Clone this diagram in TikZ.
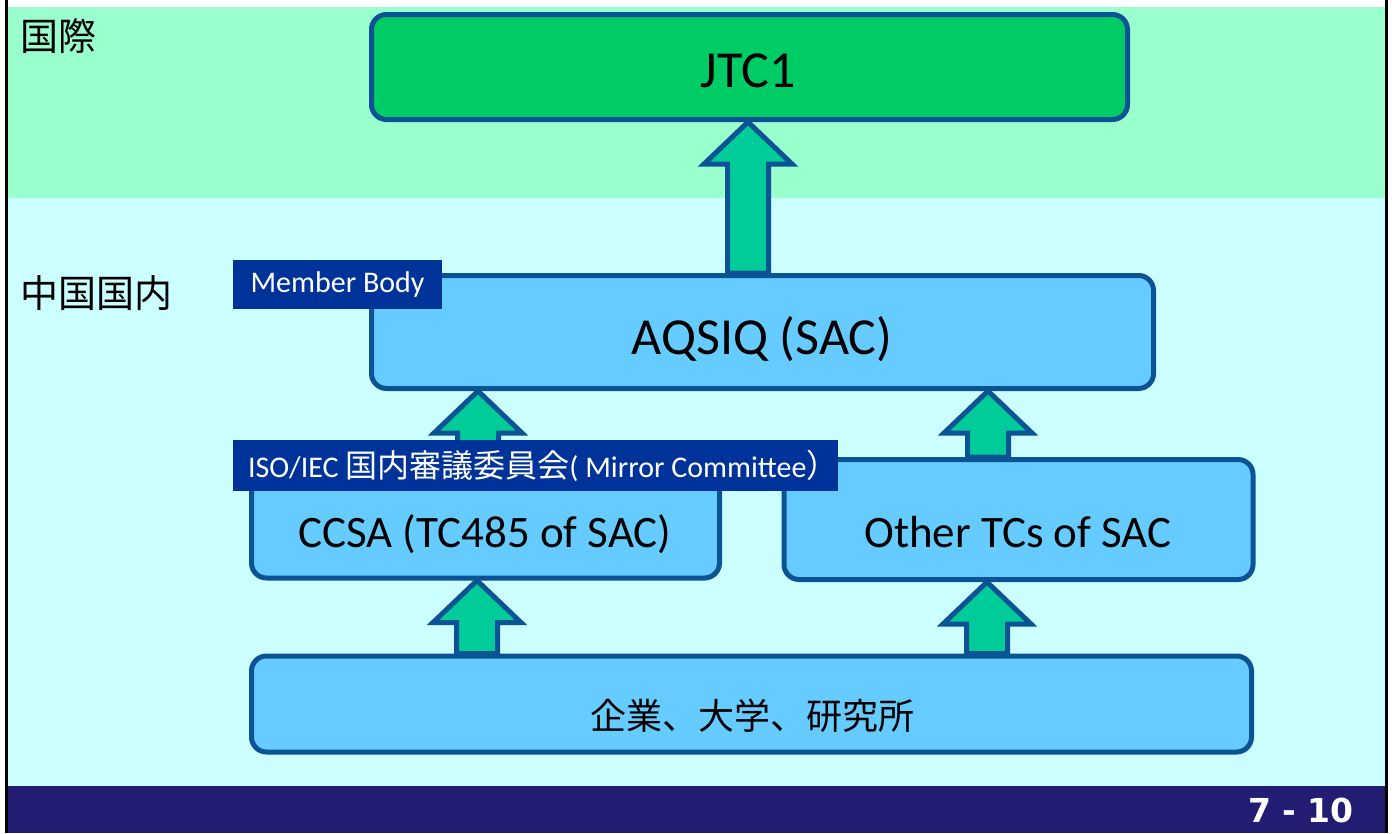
\documentclass[tikz,border=0pt]{standalone}
\usepackage{fontspec}
\setmainfont{Carlito}
\newfontfamily\cjk{Noto Sans CJK JP}
\newfontfamily\numfont{DejaVu Sans}
\usetikzlibrary{calc}
\definecolor{bandgreen}{HTML}{99FFCC}
\definecolor{bandcyan}{HTML}{CCFFFF}
\definecolor{navybar}{HTML}{231C73}
\definecolor{jtcgreen}{HTML}{00CC66}
\definecolor{boxblue}{HTML}{66CCFF}
\definecolor{edgeblue}{HTML}{0B5394}
\definecolor{arrowgreen}{HTML}{00CC99}
\definecolor{tagblue}{HTML}{003399}
\newcommand{\fsz}[1]{\fontsize{#1}{#1}\selectfont}
% up arrow: #1 = x, #2 = bottom anchor, #3 = top anchor
\newcommand{\UpArrow}[3]{%
  \path[arrowsty] let \p1=(#1,0 |- #2), \p2=(#1,0 |- #3) in
    (\x1-20.5pt,\y1) -- (\x1-20.5pt,\y2-42pt) -- (\x1-44pt,\y2-42pt) -- (\x1,\y2)
    -- (\x1+44pt,\y2-42pt) -- (\x1+20.5pt,\y2-42pt) -- (\x1+20.5pt,\y1) -- cycle;}
\begin{document}
\begin{tikzpicture}[x=1pt,y=-1pt,
  box/.style={draw=edgeblue, line width=5pt, rounded corners=15pt, fill=boxblue, inner sep=0pt},
  boxtext/.style={inner sep=0pt, text=black},
  sidetext/.style={inner sep=0pt, anchor=west, text=black, font=\cjk\fsz{38}},
  tag/.style={fill=tagblue, text=white, inner sep=0pt, font=\fsz{30}},
  arrowsty/.style={fill=arrowgreen, draw=edgeblue, line width=5pt, line join=miter}]
\useasboundingbox (0,0) rectangle (1392,833);
% background
\fill[white] (0,0) rectangle (1392,833);
\fill[bandgreen] (8,7) rectangle (1385,198);
\fill[bandcyan] (8,198) rectangle (1385,786);
\fill[navybar] (8,786) rectangle (1385,833);
\draw[black, line width=3pt] (6.5,0) -- (6.5,833);
\draw[black, line width=3pt] (1386.5,0) -- (1386.5,833);
% side labels
\node[sidetext] (intl) at (20,36) {国際};
\node[sidetext] (dom) at (20,293) {中国国内};
% boxes
\node[box, fill=jtcgreen, minimum width=756pt, minimum height=105pt] (jtc) at (749.5,67) {};
\node[box, minimum width=782pt, minimum height=113pt] (aqsiq) at (762.5,332) {};
\node[box, minimum width=468pt, minimum height=118pt] (ccsa) at (485.5,519) {};
\node[box, minimum width=469pt, minimum height=120pt] (tcs) at (1018.5,519.5) {};
\node[box, minimum width=1000pt, minimum height=96pt] (base) at (751.5,704) {};
% box texts
\node[boxtext, anchor=base, font=\fsz{52}] (jtct) at (748,87) {JTC1};
\node[boxtext, anchor=base, font=\fsz{52}] (aqsiqt) at (762,354) {AQSIQ (SAC)};
\node[boxtext, anchor=base, font=\fsz{45}] (ccsat) at (485,547) {CCSA (TC485 of SAC)};
\node[boxtext, anchor=base, font=\fsz{45}] (tcst) at (1018,547) {Other TCs of SAC};
\node[boxtext, font=\cjk\fsz{36}] (baset) at (752,716) {企業、大学、研究所};
% arrows
\UpArrow{748}{aqsiq.north}{jtc.south}
\UpArrow{478}{ccsa.north}{aqsiq.south}
\UpArrow{988}{tcs.north}{aqsiq.south}
\UpArrow{477}{base.north}{ccsa.south}
\UpArrow{987}{base.north}{tcs.south}
% tags
\node[tag, minimum width=209pt, minimum height=49pt] (member) at (337.5,284.5) {Member Body};
\node[tag, minimum width=605pt, minimum height=51pt] (mirror) at (535.5,465.5) {\makebox[575pt][l]{ISO/IEC {\cjk\fsz{32}国内審議委員会}( Mirror Committee{\cjk\fsz{32}）}}};
% page number
\node[inner sep=0pt, anchor=base east, text=white, font=\numfont\bfseries\fsz{33}] (pageno) at (1354,822) {7 - 10};
\end{tikzpicture}
\end{document}
